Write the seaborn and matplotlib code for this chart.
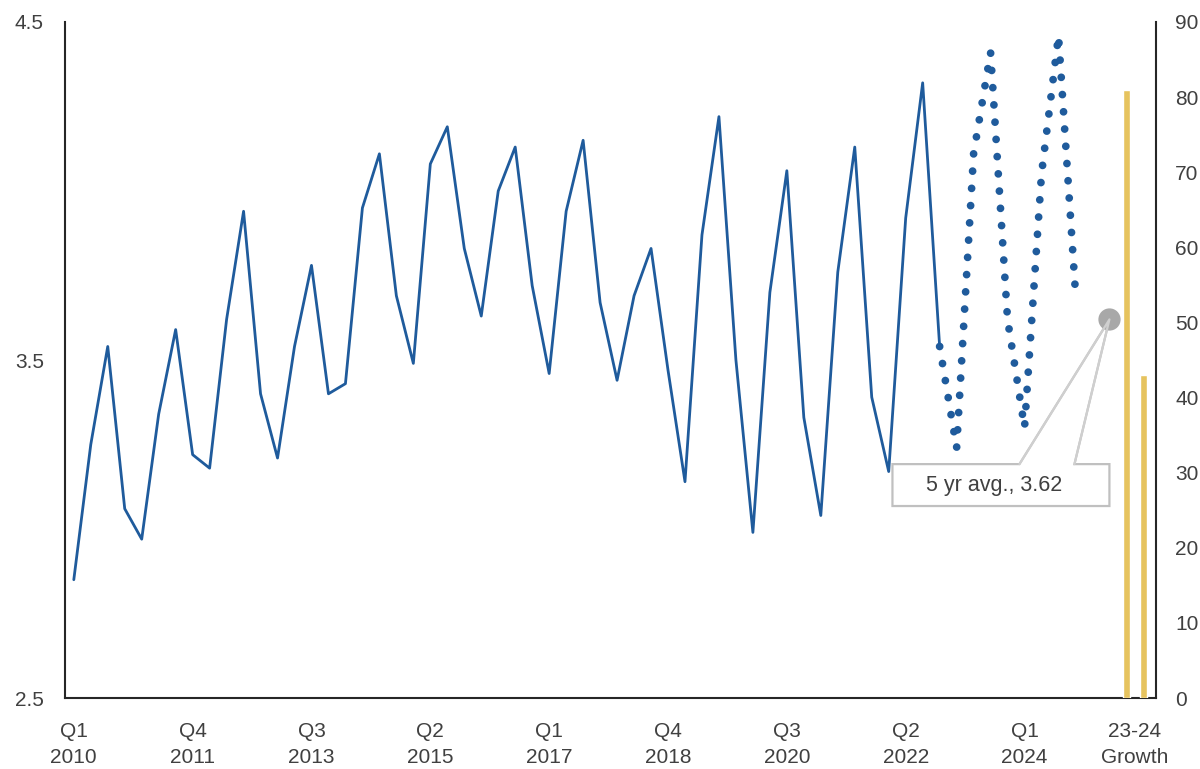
import numpy as np
import pandas as pd
import matplotlib
matplotlib.use('Agg')
import matplotlib.pyplot as plt
from matplotlib.patches import Polygon
import seaborn as sns

# quarterly values, Q1 2010 .. Q4 2022 (actuals)
actual = [2.85, 3.25, 3.54, 3.06, 2.97, 3.34, 3.59, 3.22, 3.18, 3.62, 3.94, 3.40,
          3.21, 3.54, 3.78, 3.40, 3.43, 3.95, 4.11, 3.69, 3.49, 4.08, 4.19, 3.83,
          3.63, 4.00, 4.13, 3.72, 3.46, 3.94, 4.15, 3.67, 3.44, 3.69, 3.83, 3.47,
          3.14, 3.87, 4.22, 3.50, 2.99, 3.70, 4.06, 3.33, 3.04, 3.76, 4.13, 3.39,
          3.17, 3.92, 4.32, 3.54]
# Q4 2022 .. Q4 2024 (forecast, dotted)
forecast = [3.54, 3.24, 4.11, 4.41, 3.62, 3.30, 4.05, 4.46, 3.70]
avg_5yr = 3.62
growth = [81.0, 43.0]

years = list(range(2010, 2025))
quarters = [f'Q{q}\n{y}' for y in years for q in range(1, 5)]
tick_every = 7
growth_label = '23-24\nGrowth'

BLUE = '#1f5b9c'
GOLD = '#e6c35e'
GREY = '#a8a8a8'
TXT = '#404040'
FS = 15

sns.set_style('white')
plt.rcParams['font.family'] = ['Liberation Sans', 'DejaVu Sans']

df_act = pd.DataFrame({'pos': np.arange(len(actual)), 'val': actual})
start = len(actual) - 1
df_fc = pd.DataFrame({'pos': np.arange(start, start + len(forecast)), 'val': forecast})
growth_pos = [len(quarters) + 2, len(quarters) + 3]
df_gr = pd.DataFrame({'pos': growth_pos, 'val': growth})

fig = plt.figure(figsize=(12, 7.69), dpi=100)
ax = fig.add_axes([0.054, 0.0923, 0.909, 0.8791])
ax2 = ax.twinx()

sns.lineplot(data=df_act, x='pos', y='val', ax=ax, color=BLUE, lw=2)
sns.lineplot(data=df_fc, x='pos', y='val', ax=ax, color=BLUE, lw=5.6,
             linestyle=(0, (0.001, 2.22)), dash_capstyle='round')

sns.barplot(data=df_gr, x='pos', y='val', ax=ax2, native_scale=True,
            color=GOLD, saturation=1, width=0.4)

# 5 yr average marker with callout box
avg_x = len(quarters) + 1
ax.plot([avg_x], [avg_5yr], 'o', ms=15, color=GREY, zorder=4, clip_on=False)
bx0, bx1 = avg_x - 12.78, avg_x
by0, by1 = avg_5yr - 0.552, avg_5yr - 0.428
w0, w1 = avg_x - 5.3, avg_x - 2.06
box = Polygon([(bx0, by1), (w0, by1), (avg_x, avg_5yr), (w1, by1), (bx1, by1),
               (bx1, by0), (bx0, by0)], closed=True, facecolor='white',
              edgecolor='#c0c0c0', lw=1.6, zorder=3)
ax.add_patch(box)
ax.plot([w0, avg_x, w1], [by1, avg_5yr, by1], color='#cfcfcf', lw=1.6, zorder=5)
ax.text(avg_x - 6.8, (by0 + by1) / 2, f'5 yr avg., {avg_5yr:.2f}', ha='center',
        va='center', fontsize=FS + 0.5, color=TXT, zorder=6)

xlim = (-0.53, 63.72)
ticks = list(range(0, len(quarters), tick_every)) + [len(quarters) + 2.5]
labels = [quarters[i] for i in range(0, len(quarters), tick_every)] + [growth_label]
for a in (ax, ax2):
    a.set_xlim(*xlim)
    a.set_xlabel('')
    a.set_ylabel('')
ax.set_xticks(ticks)
ax.set_xticklabels(labels, linespacing=1.5)
ax.set_ylim(2.5, 4.5)
ax.set_yticks([2.5, 3.5, 4.5])
ax2.set_ylim(0, 90)
ax2.set_yticks(range(0, 91, 10))

ax.tick_params(axis='x', length=0, pad=17, labelsize=FS, colors=TXT)
ax.tick_params(axis='y', length=0, pad=15, labelsize=FS, colors=TXT)
ax2.tick_params(axis='y', length=0, pad=14, labelsize=FS, colors=TXT)

for a in (ax, ax2):
    a.spines['top'].set_visible(False)
    for s in ('left', 'right', 'bottom'):
        a.spines[s].set_color('#262626')
        a.spines[s].set_linewidth(1.5)
ax.spines['right'].set_visible(False)
ax2.spines['left'].set_visible(False)
ax2.spines['bottom'].set_visible(False)

fig.savefig('out.png', dpi=100)
